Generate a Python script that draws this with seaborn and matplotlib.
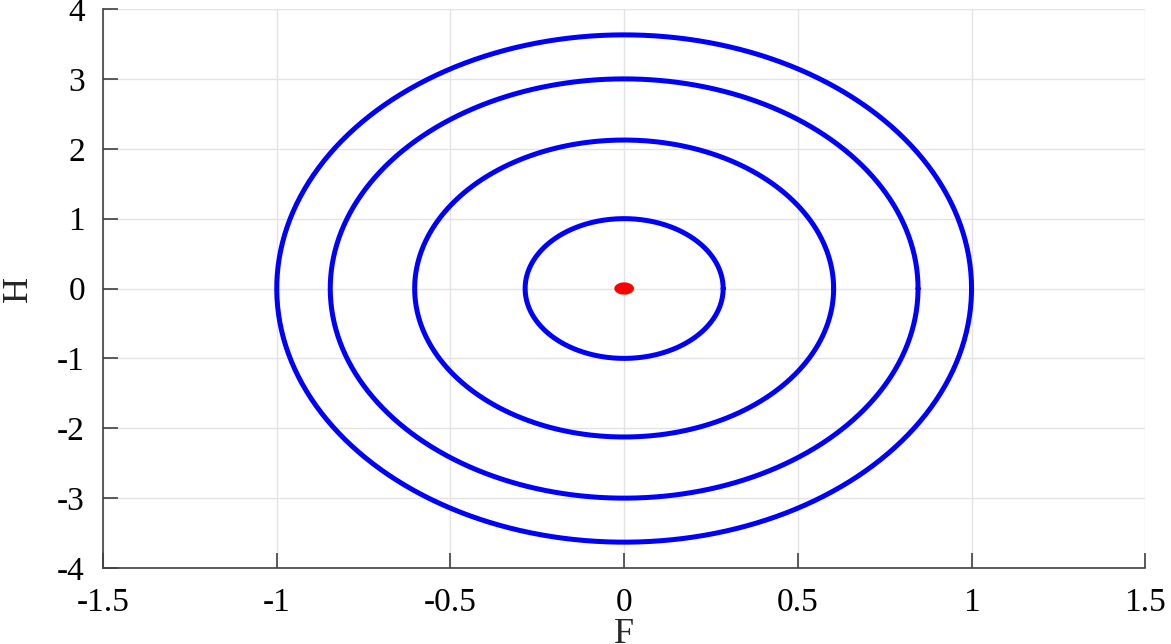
import matplotlib
matplotlib.use("Agg")
import matplotlib.pyplot as plt
from matplotlib.path import Path
import seaborn as sns
import pandas as pd
import numpy as np

# orbit half-widths in F and half-heights in H
orbit_f_radius = [0.285, 0.603, 0.846, 1.0]
orbit_h_radius = [1.0, 2.125, 3.0, 3.63]
equilibrium_f = [0.0]
equilibrium_h = [0.0]
x_ticks = [-1.5, -1, -0.5, 0, 0.5, 1, 1.5]
y_ticks = [-4, -3, -2, -1, 0, 1, 2, 3, 4]

sns.set_style("ticks")
plt.rcParams["font.family"] = ["Liberation Serif", "DejaVu Serif"]

rows = []
theta = np.linspace(0, 2 * np.pi, 400)
for k, (rf, rh) in enumerate(zip(orbit_f_radius, orbit_h_radius)):
    for i, t in enumerate(theta):
        rows.append({"orbit": k, "step": i, "F": rf * np.cos(t), "H": rh * np.sin(t)})
df = pd.DataFrame(rows)

fig = plt.figure(figsize=(11.71, 6.44), dpi=100)
ax = fig.add_axes([0.088, 0.118, 0.890, 0.868])

sns.lineplot(data=df, x="F", y="H", units="orbit", estimator=None, sort=False,
             color="#0000ff", linewidth=3.6, ax=ax, zorder=3,
             solid_capstyle="round", solid_joinstyle="round")

# slightly wide dot, like the reference
tt = np.linspace(0, 2 * np.pi, 40)
dot = Path(np.column_stack([1.6 * np.cos(tt), np.sin(tt)]))
sns.scatterplot(x=equilibrium_f, y=equilibrium_h, marker=dot, s=200,
                color="#ff0000", edgecolor="none", ax=ax, zorder=4)

ax.set_xlim(-1.5, 1.5)
ax.set_ylim(-4, 4)
ax.set_xticks(x_ticks)
ax.set_xticklabels(["-1.5", "-1", "-0.5", "0", "0.5", "1", "1.5"])
ax.set_yticks(y_ticks)
ax.set_yticklabels([str(v) for v in y_ticks])
ax.grid(True, color="#e3e3e3", linewidth=1)
ax.set_axisbelow(True)
sns.despine(ax=ax)
for s in ["left", "bottom"]:
    ax.spines[s].set_color("#404040")
    ax.spines[s].set_linewidth(1.2)
ax.tick_params(direction="in", length=11, width=1.2, color="#404040",
               labelsize=24, labelcolor="black")
ax.tick_params(axis="x", pad=14)
ax.tick_params(axis="y", pad=13)
ax.set_xlabel("F", fontsize=26, labelpad=0)
ax.set_ylabel("H", fontsize=26, labelpad=16)

plt.savefig("out.png", dpi=100)
